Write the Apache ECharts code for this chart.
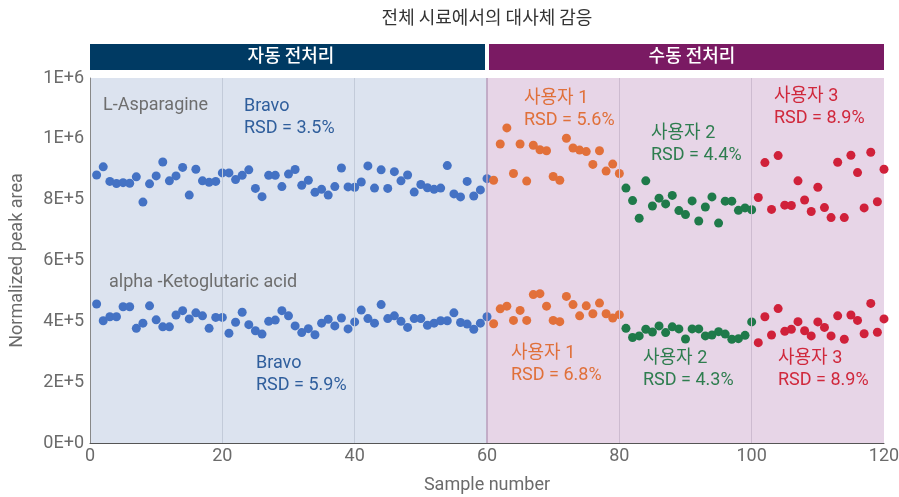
<!DOCTYPE html>
<html>
<head>
<meta charset="utf-8">
<script src="https://cdn.jsdelivr.net/npm/echarts@6/dist/echarts.min.js"></script>
<style>
  html, body { margin: 0; padding: 0; background: #fff; }
  #chart { width: 899px; height: 497px; }
</style>
</head>
<body>
<div id="chart"></div>
<script>
  // L-Asparagine, samples 1-60 (Bravo), 61-80 / 81-100 / 101-120 (users 1-3)
  const asnBravo = [881, 908, 860, 853, 856, 854, 875, 792, 852, 878, 924, 862, 878, 906, 815, 900, 862, 857, 860, 888,
    888, 866, 880, 898, 837, 810, 880, 880, 843, 884, 899, 847, 864, 824, 834, 815, 843, 904, 842, 841,
    858, 911, 838, 898, 837, 892, 862, 881, 825, 850, 839, 834, 838, 912, 819, 809, 860, 812, 832, 869];
  const asnUser1 = [864, 983, 1036, 886, 983, 861, 979, 964, 961, 876, 864, 1002, 970, 963, 958, 916, 961, 894, 917, 886];
  const asnUser2 = [838, 797, 739, 862, 779, 805, 786, 814, 764, 751, 796, 730, 776, 809, 723, 795, 795, 765, 773, 767];
  const asnUser3 = [807, 922, 768, 945, 782, 781, 862, 799, 761, 841, 774, 741, 923, 741, 946, 889, 773, 956, 793, 900];

  // alpha-Ketoglutaric acid
  const akgBravo = [457, 402, 415, 415, 448, 448, 377, 394, 451, 405, 382, 382, 421, 435, 408, 428, 418, 377, 413, 413,
    361, 397, 430, 389, 369, 358, 400, 404, 435, 418, 385, 363, 376, 356, 394, 407, 385, 411, 375, 398,
    437, 409, 394, 455, 409, 418, 400, 380, 409, 409, 387, 394, 402, 402, 428, 396, 391, 374, 394, 415];
  const akgUser1 = [392, 441, 450, 403, 436, 403, 488, 491, 450, 403, 399, 482, 455, 418, 451, 425, 460, 425, 411, 422];
  const akgUser2 = [377, 347, 352, 374, 365, 385, 363, 382, 375, 342, 375, 375, 352, 355, 366, 358, 341, 343, 354, 398];
  const akgUser3 = [330, 415, 355, 442, 367, 374, 399, 369, 352, 398, 380, 352, 418, 341, 421, 403, 359, 459, 364, 408];

  const dividers = [20, 40, 60, 80, 100];

  const COLORS = { bravo: '#4472C4', u1: '#E2703A', u2: '#1F7A4A', u3: '#D0213A' };
  const FONT = 'Roboto, "Noto Sans CJK KR", sans-serif';

  function pts(vals, start) {
    return vals.map((v, i) => [start + i, v * 1000]);
  }

  function scatter(name, vals, start, color, extra) {
    return Object.assign({
      name: name,
      type: 'scatter',
      symbolSize: 9,
      itemStyle: { color: color, opacity: 1 },
      data: pts(vals, start),
      z: 3
    }, extra || {});
  }

  function txt(x, y, text, color) {
    return {
      type: 'text', left: x, top: y, z: 100,
      style: { text: text, fill: color, font: '18px ' + FONT, lineHeight: 22 }
    };
  }

  function dividerLine(x) {
    const col = x < 60 ? '#C3CBD9' : (x === 60 ? '#B99CBB' : '#CDBBD0');
    return { xAxis: x, lineStyle: { color: col, width: x === 60 ? 1.5 : 1, type: 'solid' } };
  }

  const chart = echarts.init(document.getElementById('chart'), null, { renderer: 'canvas' });

  const option = {
    animation: false,
    backgroundColor: '#fff',
    grid: { left: 90, right: 15, top: 78, bottom: 54, outerBoundsMode: 'none', containLabel: false },
    xAxis: {
      type: 'value', min: 0, max: 120, interval: 20,
      name: 'Sample number', nameLocation: 'middle', nameGap: 33,
      nameTextStyle: { color: '#6b6b6b', fontSize: 18, fontFamily: 'Roboto' },
      axisLine: { show: true, lineStyle: { color: '#555', width: 1 } },
      axisTick: { show: false },
      axisLabel: { color: '#6b6b6b', fontSize: 18, fontFamily: 'Roboto', margin: 4 },
      splitLine: { show: false }
    },
    yAxis: {
      type: 'value', min: 0, max: 1200000, interval: 200000,
      name: 'Normalized peak area', nameLocation: 'middle', nameGap: 64,
      nameTextStyle: { color: '#6b6b6b', fontSize: 18, fontFamily: 'Roboto' },
      axisLine: { show: true, lineStyle: { color: '#888', width: 1 } },
      axisTick: { show: false },
      axisLabel: {
        color: '#6b6b6b', fontSize: 18, fontFamily: 'Roboto', margin: 6,
        formatter: (v) => v.toExponential(0).replace('e', 'E')
      },
      splitLine: { show: false }
    },
    graphic: [
      { type: 'text', x: 487, y: 8, z: 100,
        style: { text: '전체 시료에서의 대사체 감응', fill: '#333', align: 'center', font: '18px "Noto Sans CJK KR", sans-serif' } },
      { type: 'rect', left: 90, top: 44, z: 50, shape: { width: 395, height: 26 }, style: { fill: '#003A63' } },
      { type: 'rect', left: 489, top: 44, z: 50, shape: { width: 395, height: 26 }, style: { fill: '#7A1A63' } },
      { type: 'text', x: 291, y: 46, z: 101,
        style: { text: '자동 전처리', fill: '#fff', align: 'center', font: '500 18px "Noto Sans CJK KR", sans-serif' } },
      { type: 'text', x: 692, y: 46, z: 101,
        style: { text: '수동 전처리', fill: '#fff', align: 'center', font: '500 18px "Noto Sans CJK KR", sans-serif' } },
      txt(103, 94, 'L-Asparagine', '#6e6e6e'),
      txt(244, 95, 'Bravo\nRSD = 3.5%', '#2F5E9C'),
      txt(109, 271, 'alpha -Ketoglutaric acid', '#6e6e6e'),
      txt(256, 352, 'Bravo\nRSD = 5.9%', '#2F5E9C'),
      txt(524, 87, '사용자 1\nRSD = 5.6%', '#E0703A'),
      txt(651, 122, '사용자 2\nRSD = 4.4%', '#2E7D4F'),
      txt(774, 85, '사용자 3\nRSD = 8.9%', '#D0283C'),
      txt(511, 342, '사용자 1\nRSD = 6.8%', '#E0703A'),
      txt(643, 347, '사용자 2\nRSD = 4.3%', '#2E7D4F'),
      txt(778, 347, '사용자 3\nRSD = 8.9%', '#D0283C')
    ],
    series: [
      scatter('asnBravo', asnBravo, 1, COLORS.bravo, {
        markArea: {
          silent: true, z: 0,
          itemStyle: { opacity: 1 },
          data: [
            [{ xAxis: 0, itemStyle: { color: '#DCE3EF' } }, { xAxis: 60 }],
            [{ xAxis: 60, itemStyle: { color: '#E7D5E7' } }, { xAxis: 120 }]
          ]
        },
        markLine: {
          silent: true, symbol: 'none', label: { show: false },
          data: dividers.map(dividerLine)
        }
      }),
      scatter('asnUser1', asnUser1, 61, COLORS.u1),
      scatter('asnUser2', asnUser2, 81, COLORS.u2),
      scatter('asnUser3', asnUser3, 101, COLORS.u3),
      scatter('akgBravo', akgBravo, 1, COLORS.bravo),
      scatter('akgUser1', akgUser1, 61, COLORS.u1),
      scatter('akgUser2', akgUser2, 81, COLORS.u2),
      scatter('akgUser3', akgUser3, 101, COLORS.u3)
    ]
  };

  chart.setOption(option);
</script>
</body>
</html>
